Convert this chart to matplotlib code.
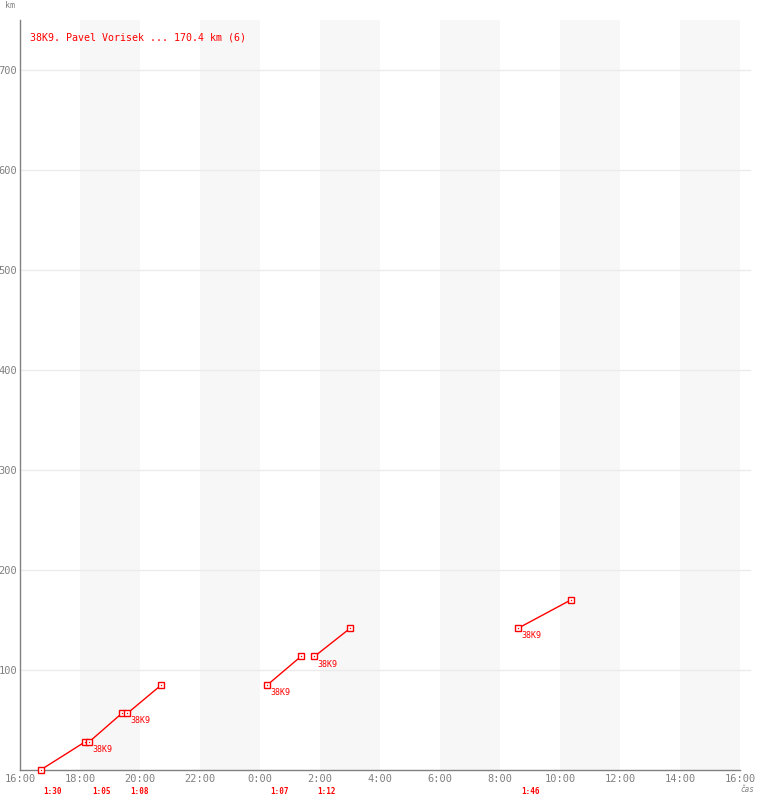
"""
Graf letu 38K9 — km vs. čas, 24 h od 16:00
"""
import matplotlib
matplotlib.use('Agg')
import matplotlib.pyplot as plt
import matplotlib.transforms as mtransforms

plt.rcParams['font.family'] = ['DejaVu Sans Mono', 'DejaVu Sans']
C_RED = '#ff0000'
C_AXIS = '#808080'
C_GRID = '#ebebeb'
C_BAND = '#f7f7f7'

# ===== data =====
pilot = '38K9'
title = '38K9. Pavel Vorisek ... 170.4 km (6)'
seg_start = ['16:41', '18:19', '19:35', '00:15', '01:49', '08:37']   # začátek úseku
seg_minutes = [90, 65, 68, 67, 72, 106]                              # délka úseku (min)
seg_label = ['1:30', '1:05', '1:08', '1:07', '1:12', '1:46']
seg_km = [0.0, 28.4, 56.8, 85.2, 113.6, 142.0, 170.4]                # kumulativní km
y_ticks = [100, 200, 300, 400, 500, 600, 700]
x_ticks = list(range(0, 25, 2))
x_labels = ['16:00', '18:00', '20:00', '22:00', '0:00', '2:00', '4:00',
            '6:00', '8:00', '10:00', '12:00', '14:00', '16:00']


def to_h(s):
    hh, mm = s.split(':')
    return (int(hh) - 16) % 24 + int(mm) / 60


W, H = 760, 800
fig = plt.figure(figsize=(W / 100, H / 100), dpi=100)
ax = fig.add_axes([20 / W, 30 / H, 720 / W, 750 / H])
ax.set_xlim(0, 24)
ax.set_ylim(0, 750)

# šedé pruhy po 2 h
for b in range(2, 24, 4):
    ax.axvspan(b, b + 2, color=C_BAND, lw=0, zorder=0)
# vodorovná mřížka (přesahuje doprava)
for yv in y_ticks:
    ax.plot([0, 1.014], [yv, yv], transform=ax.get_yaxis_transform(),
            color=C_GRID, lw=1, clip_on=False, zorder=1)

for sp in ['top', 'right']:
    ax.spines[sp].set_visible(False)
for sp in ['left', 'bottom']:
    ax.spines[sp].set_color(C_AXIS)
    ax.spines[sp].set_linewidth(1.0)

ax.set_yticks(y_ticks)
ax.set_yticklabels([str(v) for v in y_ticks])
ax.set_xticks(x_ticks)
ax.set_xticklabels(x_labels)
ax.tick_params(length=0, colors=C_AXIS, labelsize=7.5)
ax.tick_params(axis='y', pad=2)
ax.tick_params(axis='x', pad=3)

# úseky letu
for i, (st, mins, lab) in enumerate(zip(seg_start, seg_minutes, seg_label)):
    x0 = to_h(st)
    x1 = x0 + mins / 60
    y0, y1 = seg_km[i], seg_km[i + 1]
    ax.plot([x0, x1], [y0, y1], color=C_RED, lw=1, zorder=3, clip_on=False)
    ax.plot([x0, x1], [y0, y1], ls='none', marker='s', ms=4.5, mfc='white',
            mec=C_RED, mew=1, zorder=4, clip_on=False)
    ax.plot([x0, x1], [y0, y1], ls='none', marker='s', ms=0.9, mfc=C_RED,
            mec=C_RED, mew=0, zorder=5, clip_on=False)
    if y0 > 0:
        ax.annotate(pilot, xy=(x0, y0), xytext=(2, -5.5), textcoords='offset points',
                    color=C_RED, fontsize=6, ha='left', va='center')
    # délka úseku pod osou
    tr = mtransforms.blended_transform_factory(ax.transData, fig.transFigure)
    ax.annotate(lab, xy=(x0, 1 - 792 / H), xycoords=tr, xytext=(2, 0),
                textcoords='offset points', color=C_RED, fontsize=5.5,
                fontweight='bold', ha='left', va='center', annotation_clip=False)

fig.text(30 / W, 1 - 38 / H, title, color=C_RED, fontsize=7.2, va='center', ha='left')
fig.text(5 / W, 1 - 6 / H, 'km', color=C_AXIS, fontsize=6, va='center', ha='left')
fig.text(740 / W, 1 - 790 / H, 'čas', color=C_AXIS, fontsize=5.5, style='italic',
         va='center', ha='left')

plt.savefig('out.png', dpi=100)
